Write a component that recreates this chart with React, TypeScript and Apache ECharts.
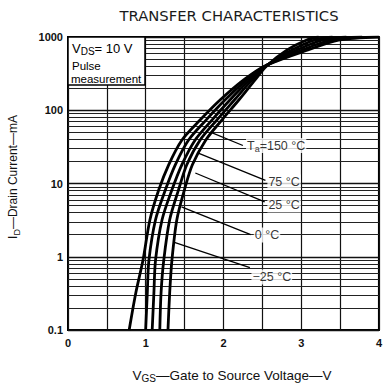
import React, { useEffect, useRef } from 'react';
import * as echarts from 'echarts';

// Drain current levels (mA) at which the gate voltages were read
const currents = [0.1, 0.32, 0.9, 3.2, 8.2, 18, 39, 74, 138, 260, 400, 665, 910, 1000];
// Gate-to-source voltage (V) for each temperature curve
const vgs150 = [0.787, 0.872, 0.965, 1.054, 1.168, 1.295, 1.464, 1.702, 1.956, 2.26, 2.527, 3.086, 3.479, 4.0];
const vgs75 = [0.999, 1.02, 1.041, 1.126, 1.253, 1.38, 1.549, 1.778, 2.019, 2.298, 2.533, 3.016, 3.378, 3.784];
const vgs25 = [1.083, 1.105, 1.126, 1.21, 1.337, 1.464, 1.634, 1.854, 2.083, 2.337, 2.54, 2.946, 3.276, 3.581];
const vgs0 = [1.181, 1.197, 1.232, 1.308, 1.422, 1.528, 1.698, 1.917, 2.14, 2.368, 2.546, 2.883, 3.175, 3.403];
const vgsM25 = [1.286, 1.308, 1.337, 1.4, 1.498, 1.6, 1.771, 1.981, 2.197, 2.406, 2.552, 2.819, 3.073, 3.225];

const curveSets = [vgs150, vgs75, vgs25, vgs0, vgsM25];

// Temperature labels and their leader lines (data coords: [V, mA])
const tempLabels = ['{t|T}{s|a}{t|=150 °C}', '{t|75 °C}', '{t|25 °C}', '{t|0 °C}', '{t|−25 °C}'];
const labelAnchors = [[2.29, 33], [2.565, 10.5], [2.565, 5.1], [2.39, 1.98], [2.36, 0.53]];
const leaderStarts = [[1.84, 50], [1.676, 26], [1.638, 13.9], [1.46, 4.8], [1.359, 1.58]];
const leaderEnds = [[2.25, 33], [2.54, 11], [2.53, 5.6], [2.35, 2.0], [2.34, 0.71]];

const xTicks = [0, 1, 2, 3, 4];
const yTicks = ['0.1', '1', '10', '100', '1000'];
const minorMultipliers = [2, 3, 4, 5, 6, 7, 8, 9];
const decades = [0.1, 1, 10, 100];

const FONT = 'Liberation Sans';

export default function App() {
  const ref = useRef<HTMLDivElement>(null);
  useEffect(() => {
    const chart = echarts.init(ref.current!, null, { renderer: 'svg' });
    const minorLevels: number[] = [];
    decades.forEach((d) => minorMultipliers.forEach((m) => minorLevels.push(+(d * m).toPrecision(3))));

    const curveSeries = curveSets.map((vs) => ({
      type: 'line',
      data: vs.map((v, i) => [v, currents[i]]),
      showSymbol: false,
      smooth: 0.3,
      lineStyle: { color: '#000', width: 2.8 },
      silent: true,
      z: 5,
    }));

    const option: any = {
      animation: false,
      backgroundColor: '#fff',
      grid: {
        left: 68,
        right: 2,
        top: 37,
        bottom: 55,
        show: true,
        borderColor: '#000',
        borderWidth: 2,
        backgroundColor: '#fff',
        z: 0,
      },
      xAxis: {
        type: 'value',
        min: 0,
        max: 4,
        interval: 0.5,
        axisLine: { show: false },
        axisTick: { show: false },
        splitLine: { show: true, lineStyle: { color: '#111', width: 1.2 } },
        axisLabel: {
          margin: 7,
          fontSize: 11,
          fontWeight: 'bold',
          fontFamily: FONT,
          color: '#111',
          formatter: (v: number) => (xTicks.indexOf(v) >= 0 ? String(v) : ''),
        },
      },
      yAxis: {
        type: 'log',
        logBase: 10,
        min: 0.1,
        max: 1000,
        axisLine: { show: false },
        axisTick: { show: false },
        splitLine: { show: true, lineStyle: { color: '#111', width: 1.4 } },
        axisLabel: {
          margin: 5,
          fontSize: 11,
          fontWeight: 'bold',
          fontFamily: FONT,
          color: '#111',
          formatter: (v: number) => {
            const s = String(+v.toPrecision(3));
            return yTicks.indexOf(s) >= 0 ? s : '';
          },
        },
      },
      series: [
        {
          type: 'line',
          data: [[0, 0.1]],
          showSymbol: false,
          lineStyle: { opacity: 0 },
          silent: true,
          z: 1,
          markLine: {
            silent: true,
            symbol: ['none', 'none'],
            label: { show: false },
            lineStyle: { color: '#222', width: 1, type: 'solid' },
            data: minorLevels.map((v) => ({ yAxis: v })),
          },
        },
        {
          type: 'line',
          data: [[0, 0.1]],
          showSymbol: false,
          lineStyle: { opacity: 0 },
          silent: true,
          z: 6,
          markLine: {
            silent: true,
            symbol: ['none', 'none'],
            label: { show: false },
            lineStyle: { color: '#000', width: 1.3, type: 'solid' },
            data: leaderStarts.map((s, i) => [{ coord: s }, { coord: leaderEnds[i] }]),
          },
        },
        ...curveSeries,
        {
          type: 'scatter',
          symbolSize: 0,
          silent: true,
          z: 7,
          data: labelAnchors.map((a, i) => ({ value: a, name: tempLabels[i] })),
          label: {
            show: true,
            position: 'right',
            distance: 0,
            formatter: (p: any) => p.name,
            backgroundColor: '#fff',
            padding: [0, 1, 0, 1],
            rich: {
              t: { fontSize: 12.5, fontFamily: FONT, color: '#000', lineHeight: 15, verticalAlign: 'middle' },
              s: { fontSize: 9, fontFamily: FONT, color: '#000', lineHeight: 15, verticalAlign: 'bottom' },
            },
          },
        },
      ],
      graphic: [
        {
          type: 'text',
          x: 229,
          y: 15,
          style: {
            text: 'TRANSFER CHARACTERISTICS',
            font: '14.8px "DejaVu Sans"',
            fill: '#1a1a1a',
            textAlign: 'center',
            textVerticalAlign: 'middle',
          },
        },
        {
          type: 'rect',
          shape: { x: 68, y: 37, width: 77, height: 48 },
          style: { fill: '#fff', stroke: '#000', lineWidth: 1.5 },
          z: 100,
        },
        {
          type: 'text',
          x: 72,
          y: 48,
          z: 101,
          style: {
            text: '{n|V}{s|DS}{n|= 10 V}',
            textVerticalAlign: 'middle',
            rich: {
              n: { fontSize: 13, fontFamily: FONT, fill: '#000', lineHeight: 16, verticalAlign: 'middle' },
              s: { fontSize: 10, fontFamily: FONT, fill: '#000', lineHeight: 16, verticalAlign: 'bottom' },
            },
          },
        },
        {
          type: 'text',
          x: 72,
          y: 66,
          z: 101,
          style: { text: 'Pulse', font: '11.5px "Liberation Sans"', fill: '#000', textVerticalAlign: 'middle' },
        },
        {
          type: 'text',
          x: 71,
          y: 79,
          z: 101,
          style: { text: 'measurement', font: '11.5px "Liberation Sans"', fill: '#000', textVerticalAlign: 'middle' },
        },
        {
          type: 'text',
          x: 13,
          y: 177,
          rotation: Math.PI / 2,
          style: {
            text: '{n|I}{s|D}{n|—Drain Current—mA}',
            textAlign: 'center',
            textVerticalAlign: 'middle',
            rich: {
              n: { fontSize: 12, fontFamily: FONT, fill: '#111', lineHeight: 16, verticalAlign: 'middle' },
              s: { fontSize: 9, fontFamily: FONT, fill: '#111', lineHeight: 16, verticalAlign: 'bottom' },
            },
          },
        },
        {
          type: 'text',
          x: 232,
          y: 375,
          style: {
            text: '{n|V}{s|GS}{n|—Gate to Source Voltage—V}',
            textAlign: 'center',
            textVerticalAlign: 'middle',
            rich: {
              n: { fontSize: 13.5, fontFamily: FONT, fill: '#111', lineHeight: 17, verticalAlign: 'middle' },
              s: { fontSize: 10, fontFamily: FONT, fill: '#111', lineHeight: 17, verticalAlign: 'bottom' },
            },
          },
        },
      ],
    };
    chart.setOption(option);
    return () => chart.dispose();
  }, []);
  return (
    <div
      ref={ref}
      style={{ position: 'fixed', left: 0, top: 0, width: 385, height: 385, background: '#fff' }}
    />
  );
}
